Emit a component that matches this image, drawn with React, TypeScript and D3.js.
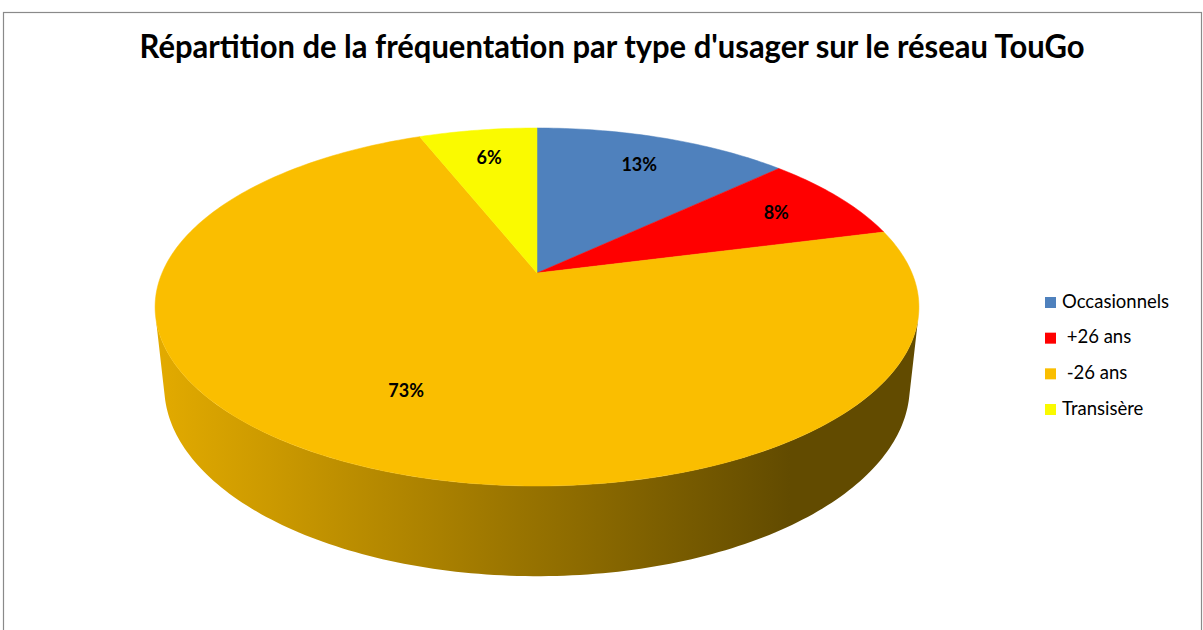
import React from "react";
import * as d3 from "d3";

const title = "Répartition de la fréquentation par type d'usager sur le réseau TouGo";
const categories = ["Occasionnels", "+26 ans", "-26 ans", "Transisère"];
const values = [13, 8, 73, 6];
const colors = ["#4F81BD", "#FF0000", "#FABE00", "#FAFA00"];
const legendLabels = ["Occasionnels", " +26 ans", " -26 ans", "Transisère"];

const W = 1203;
const H = 630;

// perspective 3D pie geometry
const CX = 537;
const CY = 273;
const ALPHA = (27.4 * Math.PI) / 180;
const DIST = 4.675;
const FOC = 1753;
const THICK = 0.241;

function proj(theta: number, r: number, h: number): [number, number] {
  const x = r * Math.sin(theta);
  const z = -r * Math.cos(theta);
  const dc = DIST - (z * Math.cos(ALPHA) + h * Math.sin(ALPHA));
  const yc = h * Math.cos(ALPHA) - z * Math.sin(ALPHA);
  return [CX + (FOC * x) / dc, CY - (FOC * yc) / dc];
}

function arcPoints(a0: number, a1: number, h: number): [number, number][] {
  const n = Math.max(2, Math.ceil(((a1 - a0) * 180) / Math.PI));
  return d3.range(n + 1).map((i) => proj(a0 + ((a1 - a0) * i) / n, 1, h));
}

const line = d3.line<[number, number]>();

export default function App() {
  const pie = d3
    .pie<number>()
    .sort(null)
    .startAngle(0)
    .endAngle(2 * Math.PI)(values);

  // visible range of the outer wall
  const lim = Math.acos(-1 / (DIST * Math.cos(ALPHA)));
  const visA = lim;
  const visB = 2 * Math.PI - lim;

  const sides = pie
    .map((s, i) => {
      const a0 = Math.max(s.startAngle, visA);
      const a1 = Math.min(s.endAngle, visB);
      if (a1 <= a0) return null;
      const top = arcPoints(a0, a1, 0);
      const bot = arcPoints(a0, a1, -THICK).reverse();
      return { i, d: line([...top, ...bot]) + "Z" };
    })
    .filter((x) => x !== null) as { i: number; d: string }[];

  const tops = pie.map((s, i) => {
    const pts = [proj(0, 0, 0), ...arcPoints(s.startAngle, s.endAngle, 0)];
    return { i, d: line(pts) + "Z" };
  });

  const total = d3.sum(values);
  const labels = pie.map((s, i) => {
    const mid = (s.startAngle + s.endAngle) / 2;
    const r = values[i] / total > 0.5 ? 0.68 : 0.78;
    const [x, y] = proj(mid, r, 0);
    return { i, x, y, text: `${values[i]}%` };
  });

  const legendY = d3
    .scalePoint<number>()
    .domain(d3.range(categories.length))
    .range([302, 409]);

  return (
    <svg
      width={W}
      height={H}
      style={{ position: "absolute", left: 0, top: 0, background: "#fff" }}
      fontFamily="Lato, 'Open Sans', sans-serif"
    >
      <defs>
        <linearGradient id="sideGrad" gradientUnits="userSpaceOnUse" x1={155} y1={0} x2={790} y2={0}>
          <stop offset="0" stopColor="#E3AB00" />
          <stop offset="1" stopColor="#624B00" />
        </linearGradient>
      </defs>
      <rect x={3.5} y={12.5} width={1198} height={640} fill="#fff" stroke="#8A8A8A" strokeWidth={1.2} />
      <text
        x={612}
        y={58}
        textAnchor="middle"
        fontSize={33}
        fontWeight="bold"
        fill="#000"
        textLength={945}
        lengthAdjust="spacingAndGlyphs"
      >
        {title}
      </text>
      <g>
        {sides.map((s) => (
          <path key={"s" + s.i} d={s.d} fill="url(#sideGrad)" />
        ))}
        {tops.map((t) => (
          <path key={"t" + t.i} d={t.d} fill={colors[t.i]} stroke={colors[t.i]} strokeWidth={0.5} />
        ))}
        {labels.map((l) => (
          <text
            key={"l" + l.i}
            x={l.x}
            y={l.y}
            dy="0.35em"
            textAnchor="middle"
            fontSize={18}
            fontWeight="bold"
            fill="#000"
          >
            {l.text}
          </text>
        ))}
      </g>
      <g>
        {categories.map((c, i) => {
          const y = legendY(i) as number;
          return (
            <g key={c}>
              <rect x={1045} y={y - 5} width={11} height={11} fill={colors[i]} />
              <text x={1062} y={y + 5.5} fontSize={18.5} fill="#000" style={{ whiteSpace: "pre" }}>
                {legendLabels[i]}
              </text>
            </g>
          );
        })}
      </g>
    </svg>
  );
}
